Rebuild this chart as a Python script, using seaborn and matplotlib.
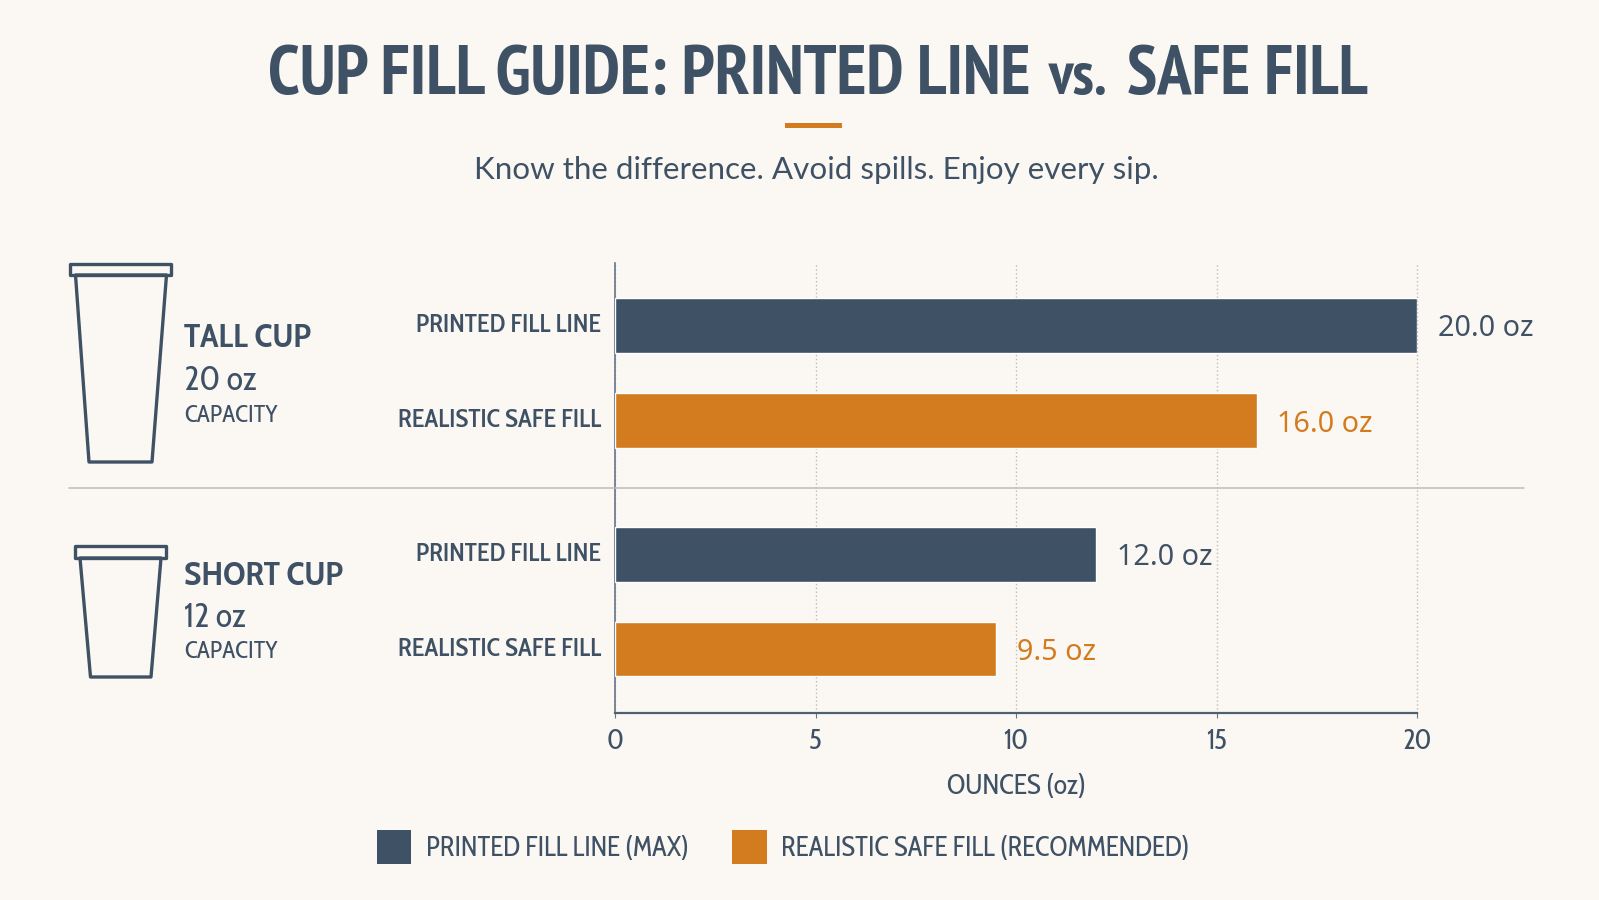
import matplotlib
matplotlib.use("Agg")
import matplotlib.pyplot as plt
from matplotlib.lines import Line2D
from matplotlib.patches import Patch, Polygon, Rectangle
from matplotlib.transforms import ScaledTranslation
import pandas as pd
import seaborn as sns

# Chart values
cups = ["TALL CUP", "SHORT CUP"]
capacities = ["20 oz", "12 oz"]
series = ["PRINTED FILL LINE", "REALISTIC SAFE FILL"]
legend_labels = ["PRINTED FILL LINE (MAX)", "REALISTIC SAFE FILL (RECOMMENDED)"]
printed_oz = [20.0, 12.0]
safe_oz = [16.0, 9.5]
x_ticks = [0, 5, 10, 15, 20]

W, H = 1599, 900
BG = "#fbf8f3"
NAVY = "#3f5165"
ORANGE = "#d27c1f"
HEAD = ["PT Sans Narrow", "Liberation Sans", "DejaVu Sans"]
COND = ["Cabin Condensed", "Liberation Sans", "DejaVu Sans"]
BODY = ["Lato", "Open Sans", "DejaVu Sans"]
VALUE = ["Noto Sans", "DejaVu Sans"]

sns.set_theme(style="white", rc={"figure.facecolor": BG, "axes.facecolor": "none",
                                 "savefig.facecolor": BG})
fig = plt.figure(figsize=(W / 100, H / 100), dpi=100)


def fx(px):
    return px / W


def fy(py):
    return 1 - py / H


def label(px, py, text, **kw):
    kw.setdefault("color", NAVY)
    kw.setdefault("va", "baseline")
    fig.text(fx(px), fy(py), text, **kw)


def axes_box(left, top, right, bottom):
    return fig.add_axes([fx(left), fy(bottom), fx(right - left), (bottom - top) / H])


# Heading
label(268, 94, "CUP FILL GUIDE: PRINTED LINE", family=HEAD, weight="bold", fontsize=50)
label(1049, 94, "vs.", family=HEAD, weight="bold", fontsize=44)
label(1127, 94, "SAFE FILL", family=HEAD, weight="bold", fontsize=49.5)
fig.add_artist(Rectangle((fx(785), fy(128)), fx(57), 5 / H, color=ORANGE, lw=0,
                         transform=fig.transFigure))
label(816, 179, "Know the difference. Avoid spills. Enjoy every sip.",
      family=BODY, fontsize=22.6, ha="center")

# One panel of bars per cup, stacked over a shared ounce scale
panels = [
    dict(box=(615, 263, 1417, 488), ylim=(1.71, -0.658)),
    dict(box=(615, 488, 1417, 713), ylim=(1.677, -0.704)),
]
raise_label = ScaledTranslation(0, 3 / 100, fig.dpi_scale_trans)
for i, panel in enumerate(panels):
    ax = axes_box(*panel["box"])
    table = pd.DataFrame({"measure": series, "oz": [printed_oz[i], safe_oz[i]]})
    sns.barplot(data=table, x="oz", y="measure", hue="measure", dodge=False, width=0.58,
                palette=[NAVY, ORANGE], legend=False, saturation=1, ax=ax, zorder=3)
    ax.set_xlim(0, 20)
    ax.set_ylim(*panel["ylim"])
    ax.set_xticks(x_ticks)
    ax.set_xlabel("")
    ax.set_ylabel("")
    ax.grid(axis="x", color="#bcbcb6", lw=1, linestyle=(0, (1, 1.8)), zorder=0, clip_on=False)
    ax.set_axisbelow(True)
    sns.despine(ax=ax, top=True, right=True, bottom=i == 0)
    ax.spines["left"].set(color="#64768a", linewidth=1.2)
    ax.tick_params(axis="y", length=0, pad=10, labelcolor=NAVY)
    for tick in ax.get_yticklabels():
        tick.set(family=COND, weight="semibold", fontsize=18.5)
        tick.set_transform(tick.get_transform() + raise_label)
    for container, color, value in zip(ax.containers, [NAVY, ORANGE], table["oz"]):
        for bar in container:
            ax.annotate(f"{value:.1f} oz", (value, bar.get_y() + bar.get_height() / 2),
                        xytext=(15, -2.5), textcoords="offset points", va="center",
                        family=VALUE, weight="semibold", fontsize=20.7, color=color,
                        annotation_clip=False)
    if i == 0:
        ax.tick_params(axis="x", length=0, labelbottom=False)
    else:
        ax.spines["bottom"].set(color="#4f6073", linewidth=1.6)
        ax.tick_params(axis="x", length=3.5, width=0.8, color="#64768a", pad=7.5,
                       labelcolor=NAVY, bottom=True)
        for tick in ax.get_xticklabels():
            tick.set(family=COND, fontsize=20)
        ax.set_xlabel("OUNCES (oz)", family=COND, fontsize=20, color=NAVY, labelpad=12)

# Divider between the two cups
fig.add_artist(Line2D([fx(69), fx(1524)], [fy(488), fy(488)], color="#bdbdb7", lw=1.1,
                      transform=fig.transFigure))


def cup_icon(lid_l, lid_r, lid_t, lid_b, top_l, top_r, bot_l, bot_r, bot_y):
    stroke = dict(fill=False, edgecolor=NAVY, lw=2.4, joinstyle="round",
                  transform=fig.transFigure)
    fig.add_artist(Polygon([(fx(top_l), fy(lid_b)), (fx(top_r), fy(lid_b)),
                            (fx(bot_r), fy(bot_y)), (fx(bot_l), fy(bot_y))], **stroke))
    fig.add_artist(Polygon([(fx(lid_l), fy(lid_t)), (fx(lid_r), fy(lid_t)),
                            (fx(lid_r), fy(lid_b)), (fx(lid_l), fy(lid_b))], **stroke))


cup_icon(70, 171, 264, 275, 75.5, 166.5, 89, 152, 462)
cup_icon(75, 165.5, 546, 558, 80, 161, 90.5, 151, 677)

# Cup captions
for name, size, y_name, y_size, y_cap in zip(cups, capacities, [347, 585], [390, 627], [422, 658]):
    label(184, y_name, name, family=COND, weight="bold", fontsize=24.6)
    label(184, y_size, size, family=COND, fontsize=24.5)
    label(184, y_cap, "CAPACITY", family=COND, fontsize=17.5)

# Legend
handles = [Patch(facecolor=NAVY, edgecolor="none"), Patch(facecolor=ORANGE, edgecolor="none")]
legend = fig.legend(handles, legend_labels, ncol=2, frameon=False, loc="center left",
                    bbox_to_anchor=(fx(378 - 1), fy(847)), borderpad=0, borderaxespad=0,
                    handlelength=1.267, handleheight=1.6, handletextpad=0.53,
                    columnspacing=1.61, prop={"family": COND, "size": 19.6})
for text in legend.get_texts():
    text.set_color(NAVY)

fig.savefig("out.png", dpi=100)
